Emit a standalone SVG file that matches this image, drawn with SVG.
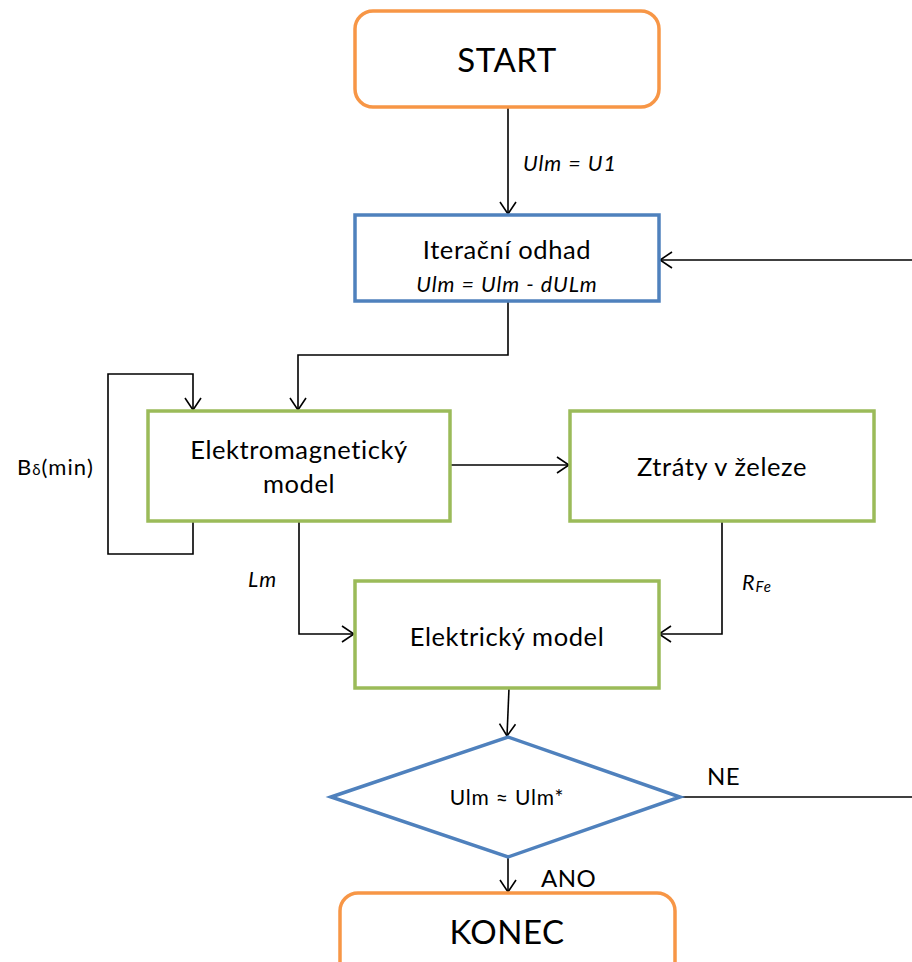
<svg xmlns="http://www.w3.org/2000/svg" width="912" height="962" viewBox="0 0 912 962">
<defs>
<marker id="arr" markerUnits="userSpaceOnUse" markerWidth="14" markerHeight="18" viewBox="0 0 14 18" refX="13" refY="9" orient="auto">
<path d="M1,1 L13,9 L1,17" fill="none" stroke="#000" stroke-width="1.6"/>
</marker>
</defs>
<style>
text{font-family:Lato,"Liberation Sans",sans-serif;fill:#000;text-anchor:middle}
.t{font-size:25.5px;letter-spacing:0.6px}
.big{font-size:33px;letter-spacing:0.5px}
.it{font-style:italic;font-size:21.5px;letter-spacing:1px}
.lab{font-size:24px;letter-spacing:0.5px;text-anchor:start}
.orange{fill:#fff;stroke:#F79646;stroke-width:3.5}
.blue{fill:#fff;stroke:#4F81BD;stroke-width:3.5}
.green{fill:#fff;stroke:#9BBB59;stroke-width:3.5}
.c{fill:none;stroke:#000;stroke-width:1.6}
</style>
<rect width="912" height="962" fill="#fff"/>
<g id="connectors">
<path class="c" d="M508,107 V214" marker-end="url(#arr)"/>
<path class="c" d="M912,260 H660" marker-end="url(#arr)"/>
<path class="c" d="M508,301 V355 H298 V410" marker-end="url(#arr)"/>
<path class="c" d="M193,521 V554 H108 V374 H193 V410" marker-end="url(#arr)"/>
<path class="c" d="M450,465 H569" marker-end="url(#arr)"/>
<path class="c" d="M722,521 V634 H659" marker-end="url(#arr)"/>
<path class="c" d="M299,521 V634 H354" marker-end="url(#arr)"/>
<path class="c" d="M509,688 L507,736" marker-end="url(#arr)"/>
<path class="c" d="M680,797 H912"/>
<path class="c" d="M508,857 V892" marker-end="url(#arr)"/>
<text class="it" x="523" y="171" style="text-anchor:start">Ulm = U1</text>
<text class="it" x="248" y="587" style="text-anchor:start">Lm</text>
<text class="it" x="742" y="590" style="text-anchor:start">R<tspan font-size="15" dy="2">Fe</tspan></text>
<text x="17" y="475" style="text-anchor:start;font-size:22px;letter-spacing:1px">B<tspan font-size="15">δ</tspan>(min)</text>
<text class="lab" x="707" y="785">NE</text>
<text class="lab" x="541" y="887">ANO</text>
</g>
<g id="start">
<rect class="orange" x="355" y="11" width="304" height="96" rx="18"/>
<text class="big" x="507" y="72">START</text>
</g>
<g id="iter">
<rect class="blue" x="355" y="215" width="304" height="86"/>
<text class="t" x="507" y="259">Iterační odhad</text>
<text class="it" x="507" y="292">Ulm = Ulm - dULm</text>
</g>
<g id="em">
<rect class="green" x="148" y="411" width="302" height="110"/>
<text class="t" x="299" y="459">Elektromagnetický</text>
<text class="t" x="299" y="493">model</text>
</g>
<g id="ztraty">
<rect class="green" x="570" y="411" width="304" height="110"/>
<text class="t" x="722" y="476">Ztráty v železe</text>
</g>
<g id="elektricky">
<rect class="green" x="355" y="581" width="304" height="107"/>
<text class="t" x="507" y="646">Elektrický model</text>
</g>
<g id="decision">
<polygon class="blue" points="331,797 508,737 680,797 508,857"/>
<text x="507" y="805" style="font-size:21px;letter-spacing:0.8px">Ulm ≈ Ulm*</text>
</g>
<g id="konec">
<rect class="orange" x="340" y="893" width="335" height="90" rx="18"/>
<text class="big" x="507" y="944">KONEC</text>
</g>
</svg>
